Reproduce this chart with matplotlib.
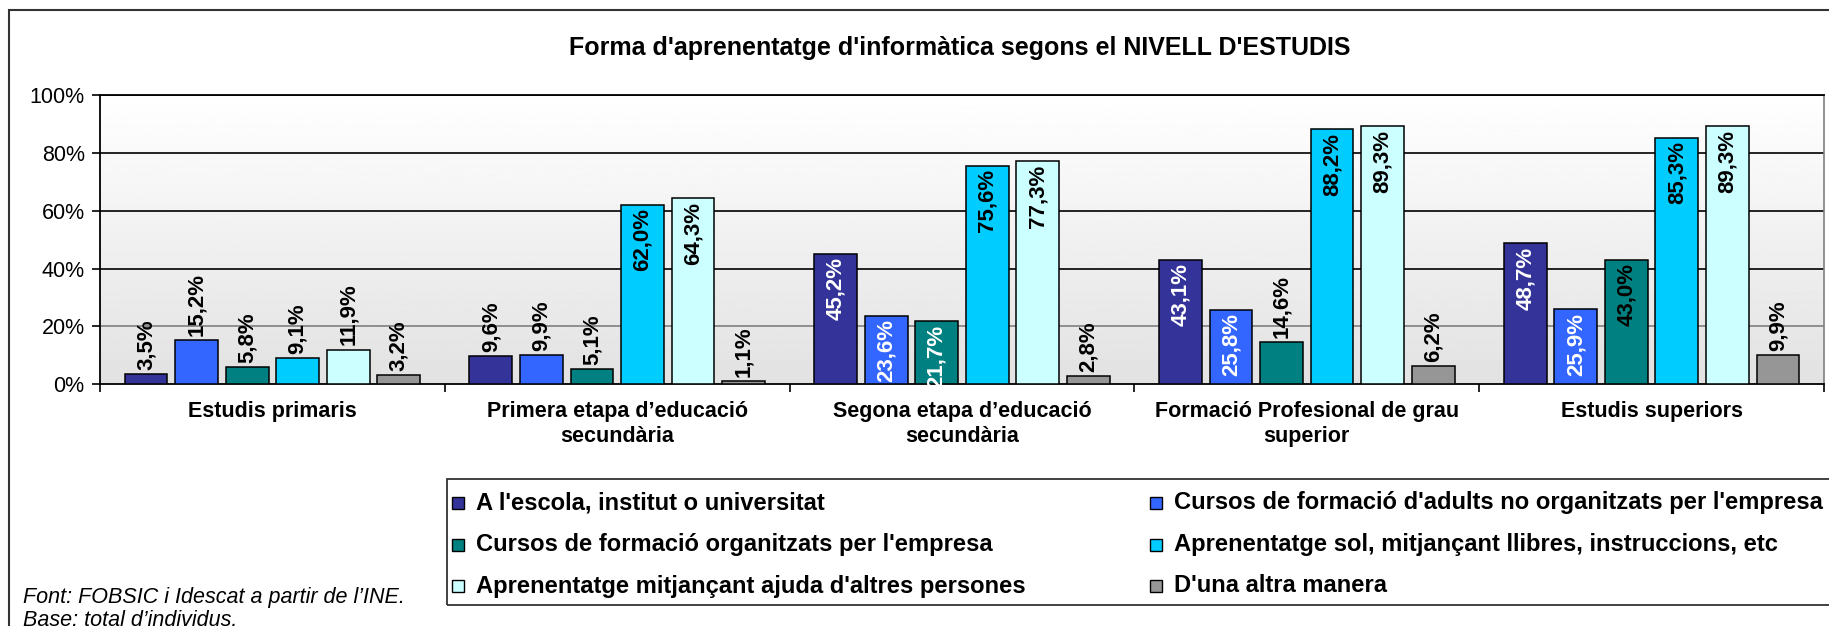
import matplotlib.pyplot as plt
import numpy as np
from matplotlib.patches import Rectangle


CATEGORIES = [
	"Estudis primaris",
	"Primera etapa d\u2019educació\nsecundària",
	"Segona etapa d\u2019educació\nsecundària",
	"Formació Profesional de grau\nsuperior",
	"Estudis superiors",
]

SERIES_NAMES = [
	"A l'escola, institut o universitat",
	"Cursos de formació d'adults no organitzats per l'empresa",
	"Cursos de formació organitzats per l'empresa",
	"Aprenentatge sol, mitjançant llibres, instruccions, etc",
	"Aprenentatge mitjançant ajuda d'altres persones",
	"D'una altra manera",
]

ESCOLA = [3.5, 9.6, 45.2, 43.1, 48.7]
ADULTS = [15.2, 9.9, 23.6, 25.8, 25.9]
EMPRESA = [5.8, 5.1, 21.7, 14.6, 43.0]
SOL = [9.1, 62.0, 75.6, 88.2, 85.3]
AJUDA = [11.9, 64.3, 77.3, 89.3, 89.3]
ALTRA = [3.2, 1.1, 2.8, 6.2, 9.9]

Y_TICKS = [0, 20, 40, 60, 80, 100]

TITLE = "Forma d'aprenentatge d'informàtica segons el NIVELL D'ESTUDIS"
FOOTNOTE = ["Font: FOBSIC i Idescat a partir de l\u2019INE.", "Base: total d\u2019individus."]

COLORS = ["#333399", "#3366FF", "#008080", "#00CCFF", "#CCFFFF", "#969696"]
INSIDE_TEXT = ["white", "white", "white", "black", "black", "black"]

W_PX, H_PX = 1829, 626


def fx(px):
	return px / W_PX


def fy(py):
	return 1 - py / H_PX


def fmtValue(v):
	return f"{v:.1f}".replace(".", ",") + "%"


def main():
	plt.rcParams["font.family"] = ["Liberation Sans", "DejaVu Sans"]
	fig = plt.figure(figsize=(W_PX / 100, H_PX / 100), dpi=100)
	fig.patch.set_facecolor("white")

	ax = fig.add_axes([fx(100), fy(384), fx(1824) - fx(100), fy(95.3) - fy(384)])

	# fondo degradado del área de trazado
	grad = np.linspace(0.885, 1.0, 256).reshape(-1, 1)
	ax.imshow(grad, extent=[0, 1, 0, 1], transform=ax.transAxes, aspect="auto",
		cmap="gray", vmin=0, vmax=1, origin="lower", zorder=0)

	series = [ESCOLA, ADULTS, EMPRESA, SOL, AJUDA, ALTRA]
	pitch = 0.1466
	width = 0.124
	x_base = np.arange(len(CATEGORIES)) + 0.5

	for j, values in enumerate(series):
		xs = x_base + (j - 2.5) * pitch
		ax.bar(xs, values, width=width, color=COLORS[j], edgecolor="black",
			linewidth=1.1, zorder=3)
		for i, (x, v) in enumerate(zip(xs, values)):
			if v >= 20:
				color = INSIDE_TEXT[j]
				if j == 2 and v > 40:
					color = "black"
				ax.annotate(fmtValue(v), (x, v), xytext=(0, -2.5), textcoords="offset points",
					rotation=90, ha="center", va="top", fontsize=16, fontweight="bold",
					color=color, zorder=4)
			else:
				ax.annotate(fmtValue(v), (x, v), xytext=(0, 3), textcoords="offset points",
					rotation=90, ha="center", va="bottom", fontsize=16, fontweight="bold",
					color="black", zorder=4)

	ax.set_xlim(0, len(CATEGORIES))
	ax.set_ylim(0, 100)
	ax.set_yticks(Y_TICKS)
	ax.set_yticklabels([f"{t}%" for t in Y_TICKS])
	ax.tick_params(axis="y", length=6, width=1.2, pad=5, labelsize=15.5, direction="out")

	ax.set_xticks(np.arange(len(CATEGORIES) + 1))
	ax.set_xticklabels([])
	ax.set_xticks(x_base, minor=True)
	ax.set_xticklabels(CATEGORIES, minor=True, fontsize=15.5, fontweight="bold", linespacing=1.3)
	ax.tick_params(axis="x", which="major", length=6, width=1.2, direction="out")
	ax.tick_params(axis="x", which="minor", length=0, pad=12)

	for t in Y_TICKS[1:]:
		ax.axhline(t, color="#7f7f7f" if t == 20 else "black", linewidth=1.2, zorder=1)

	for side in ["left", "bottom", "top"]:
		ax.spines[side].set_color("black")
		ax.spines[side].set_linewidth(1.3)
	ax.spines["right"].set_color("#7f7f7f")
	ax.spines["right"].set_linewidth(1.2)

	fig.text(fx(960), fy(48), TITLE, ha="center", va="center", fontsize=18, fontweight="bold")

	# marco exterior
	fig.add_artist(Rectangle((fx(9), fy(1000)), 1.2, fy(9.7) - fy(1000), transform=fig.transFigure,
		fill=False, edgecolor="#333333", linewidth=1.5, clip_on=False))

	# caja de la leyenda
	fig.add_artist(Rectangle((fx(447), fy(605)), 1.2, fy(479) - fy(605), transform=fig.transFigure,
		fill=False, edgecolor="#333333", linewidth=1.3, clip_on=False))

	col_x = [452, 1150]
	row_y = [503, 545, 586]
	for k, name in enumerate(SERIES_NAMES):
		cx = col_x[k % 2]
		cy = row_y[k // 2]
		fig.add_artist(Rectangle((fx(cx), fy(cy + 6)), fx(12), fy(cy - 6) - fy(cy + 6),
			transform=fig.transFigure, facecolor=COLORS[k], edgecolor="black", linewidth=1.0))
		fig.text(fx(cx + 24), fy(cy), name, ha="left", va="center", fontsize=17.1, fontweight="bold")

	fig.text(fx(23), fy(597), FOOTNOTE[0], ha="left", va="center", fontsize=15.5, style="italic")
	fig.text(fx(23), fy(621), FOOTNOTE[1], ha="left", va="center", fontsize=15.5, style="italic")

	fig.savefig("out.png", dpi=100)


if __name__ == "__main__":
	main()
